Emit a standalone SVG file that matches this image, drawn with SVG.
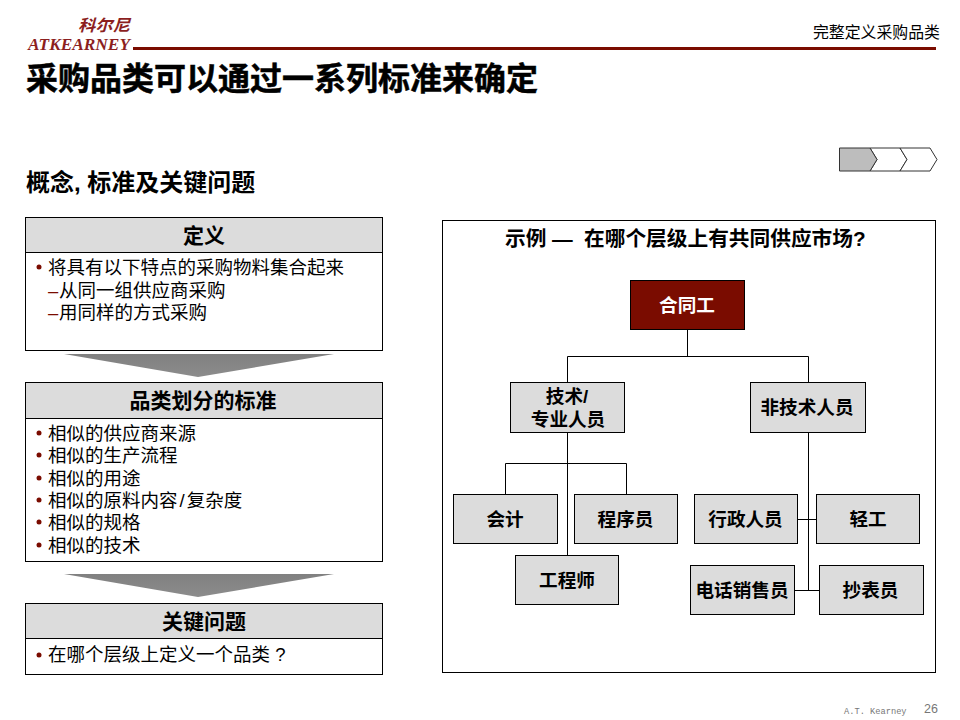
<svg xmlns="http://www.w3.org/2000/svg" width="960" height="720" viewBox="0 0 960 720">
<defs>
<style>
text{font-family:"Liberation Sans","Noto Sans CJK SC",sans-serif;fill:#000}
.b{font-weight:700}
.hd{font-size:21px;font-weight:700;text-anchor:middle}
.n{font-size:18.600px;font-weight:700;text-anchor:middle}
.t{font-size:18.500px}
.dash{font-size:18.400px;fill:#7a0c00}
.box{fill:#fff;stroke:#000;stroke-width:1}
.head{fill:#dcdcdc;stroke:#000;stroke-width:1}
.node{fill:#dcdcdc;stroke:#000;stroke-width:1}
.dot{fill:#7a0c00}
.ln{fill:none;stroke:#000;stroke-width:1}
</style>
<linearGradient id="arrowGrad" x1="0" y1="0" x2="0" y2="1"><stop offset="0" stop-color="#808080"/><stop offset="1" stop-color="#8c8c8c"/></linearGradient>
</defs>
<rect width="960" height="720" fill="#fff"/>
<g id="logo">
<text x="78" y="30.500" textLength="52" lengthAdjust="spacingAndGlyphs" style="font-family:'Noto Sans CJK SC',serif;font-size:16px;font-weight:700;font-style:italic;fill:#8c1f1f">科尔尼</text>
<text x="28" y="49.500" textLength="102" lengthAdjust="spacingAndGlyphs" style="font-family:'Liberation Serif',serif;font-size:16px;font-weight:700;font-style:italic;fill:#8c1f1f">ATKEARNEY</text>
</g>
<rect id="rule" x="133" y="47" width="803" height="3" fill="#7a0c00"/>
<text id="section" x="940" y="38" text-anchor="end" font-size="15.900">完整定义采购品类</text>
<text id="title" x="26" y="90" class="b" font-size="32" stroke="#000" stroke-width=".5">采购品类可以通过一系列标准来确定</text>
<text id="subtitle" x="26" y="191" class="b" font-size="24">概念, 标准及关键问题</text>
<g id="tracker" stroke="#333" stroke-width="1">
<path d="M870 148L877 159.500L870 171H900L907 159.500L900 148Z" fill="#fff"/>
<path d="M900 148L907 159.500L900 171H930L937 159.500L930 148Z" fill="#fff"/>
<path d="M839.500 148H870L877 159.500L870 171H839.500Z" fill="#bdbdbd"/>
</g>
<g id="definition">
<rect class="box" x="25.500" y="217.500" width="357" height="133"/>
<rect class="head" x="25.500" y="217.500" width="357" height="35"/>
<text class="hd" x="204" y="243">定义</text>
<circle class="dot" cx="39" cy="267" r="2.500"/>
<text class="t" x="48" y="274">将具有以下特点的采购物料集合起来</text>
<text class="dash" x="48" y="297">–</text><text class="t" x="59" y="297">从同一组供应商采购</text>
<text class="dash" x="48" y="319">–</text><text class="t" x="59" y="319">用同样的方式采购</text>
</g>
<polygon id="arrow1" points="64,354 334,354 198,377" fill="url(#arrowGrad)"/>
<g id="criteria">
<rect class="box" x="25.500" y="382.500" width="357" height="179"/>
<rect class="head" x="25.500" y="382.500" width="357" height="36"/>
<text class="hd" x="203" y="408">品类划分的标准</text>
<circle class="dot" cx="39" cy="433" r="2.500"/>
<text class="t" x="48" y="440">相似的供应商来源</text>
<circle class="dot" cx="39" cy="455" r="2.500"/>
<text class="t" x="48" y="462">相似的生产流程</text>
<circle class="dot" cx="39" cy="478" r="2.500"/>
<text class="t" x="48" y="485">相似的用途</text>
<circle class="dot" cx="39" cy="500" r="2.500"/>
<text class="t" x="48" y="507">相似的原料内容<tspan dx="2">/</tspan><tspan dx="2">复杂度</tspan></text>
<circle class="dot" cx="39" cy="522" r="2.500"/>
<text class="t" x="48" y="529">相似的规格</text>
<circle class="dot" cx="39" cy="545" r="2.500"/>
<text class="t" x="48" y="552">相似的技术</text>
</g>
<polygon id="arrow2" points="64,574 334,574 198,597" fill="url(#arrowGrad)"/>
<g id="question">
<rect class="box" x="25.500" y="603.500" width="357" height="71"/>
<rect class="head" x="25.500" y="603.500" width="357" height="35"/>
<text class="hd" x="204" y="629">关键问题</text>
<circle class="dot" cx="39" cy="655" r="2.500"/>
<text class="t" x="48" y="661">在哪个层级上定义一个品类 ?</text>
</g>
<g id="example">
<rect class="box" x="442.500" y="220.500" width="493" height="452"/>
<text x="505" y="246" class="b" font-size="20.700">示例 — <tspan x="584">在哪个层级上有共同供应市场?</tspan></text>
</g>
<g id="connectors">
<path class="ln" d="M687.500 329V356.500M567.500 356.500H808.500M567.500 356.500V382M808.500 356.500V382M567.500 432V555M505.500 463.500H626.500M505.500 463.500V494M626.500 463.500V494M808.500 432V590.500M797 519.500H816M794 590.500H819"/>
</g>
<g id="n-contract"><rect x="630.500" y="280.500" width="114" height="49" fill="#7a0c00" stroke="#000"/><text class="n" x="687" y="312" style="fill:#fff">合同工</text></g>
<g id="n-tech"><rect class="node" x="510.500" y="382.500" width="114" height="50"/><text class="n" x="567" y="403">技术/</text><text class="n" x="568" y="426">专业人员</text></g>
<g id="n-nontech"><rect class="node" x="750.500" y="382.500" width="115" height="50"/><text class="n" x="807" y="414">非技术人员</text></g>
<g id="n-acct"><rect class="node" x="453.500" y="494.500" width="104" height="49"/><text class="n" x="505" y="526">会计</text></g>
<g id="n-prog"><rect class="node" x="574.500" y="494.500" width="103" height="49"/><text class="n" x="625.500" y="526">程序员</text></g>
<g id="n-eng"><rect class="node" x="515.500" y="555.500" width="103" height="49"/><text class="n" x="567" y="587">工程师</text></g>
<g id="n-admin"><rect class="node" x="694.500" y="494.500" width="103" height="49"/><text class="n" x="745.500" y="526">行政人员</text></g>
<g id="n-light"><rect class="node" x="816.500" y="494.500" width="103" height="49"/><text class="n" x="868" y="526">轻工</text></g>
<g id="n-sales"><rect class="node" x="690.500" y="565.500" width="104" height="49"/><text class="n" x="742" y="597">电话销售员</text></g>
<g id="n-meter"><rect class="node" x="819.500" y="565.500" width="104" height="49"/><text class="n" x="870.500" y="597">抄表员</text></g>
<text id="brand" x="844" y="714" style="font-family:'Liberation Mono',monospace;font-size:8.700px;fill:#777">A.T. Kearney</text>
<text id="page" x="938" y="713" text-anchor="end" font-size="12.500" style="fill:#777">26</text>
</svg>
